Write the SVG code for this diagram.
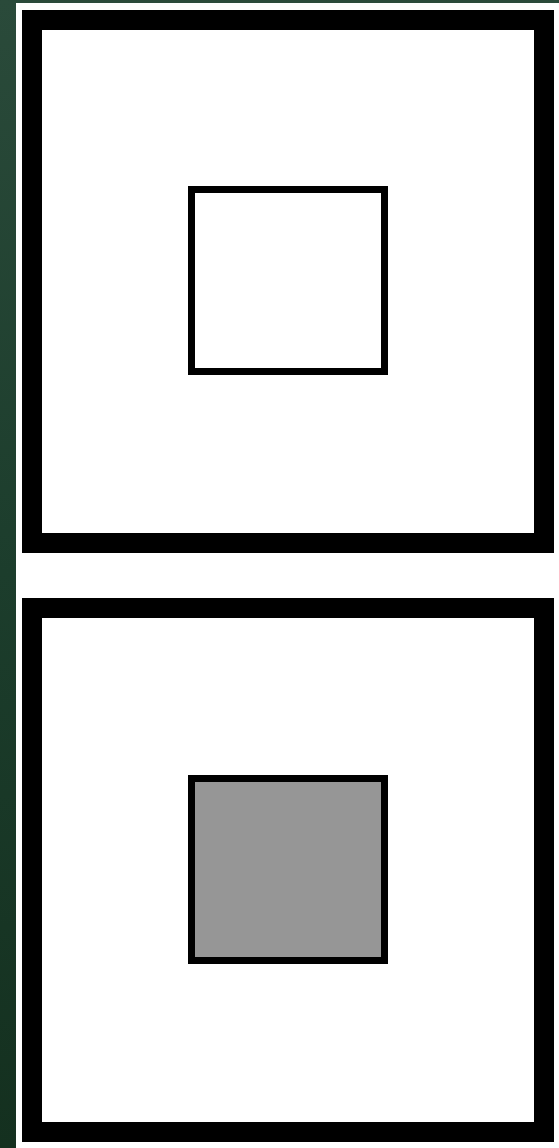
<svg xmlns="http://www.w3.org/2000/svg" width="559" height="1148" viewBox="0 0 559 1148">
<defs>
<linearGradient id="bg" x1="0" y1="0" x2="0" y2="1">
<stop offset="0" stop-color="#2a4a3a"/>
<stop offset="0.5" stop-color="#1c3d2c"/>
<stop offset="1" stop-color="#14301f"/>
</linearGradient>
</defs>
<style>
.frame{fill:#ffffff;stroke:#000000;stroke-width:20}
.inner{stroke:#000000;stroke-width:7}
</style>
<rect x="0" y="0" width="559" height="1148" fill="url(#bg)"/>
<rect x="16" y="3" width="543" height="1145" fill="#ffffff"/>
<g id="panel-top">
<rect class="frame" x="32" y="20" width="512" height="523"/>
<rect id="square-empty" class="inner" x="191.5" y="189.5" width="193" height="182" fill="#ffffff"/>
</g>
<g id="panel-bottom">
<rect class="frame" x="32" y="608" width="512" height="524"/>
<rect id="square-filled" class="inner" x="191.5" y="778.5" width="193" height="182" fill="#969696"/>
</g>
<g id="connectors"/>
</svg>
